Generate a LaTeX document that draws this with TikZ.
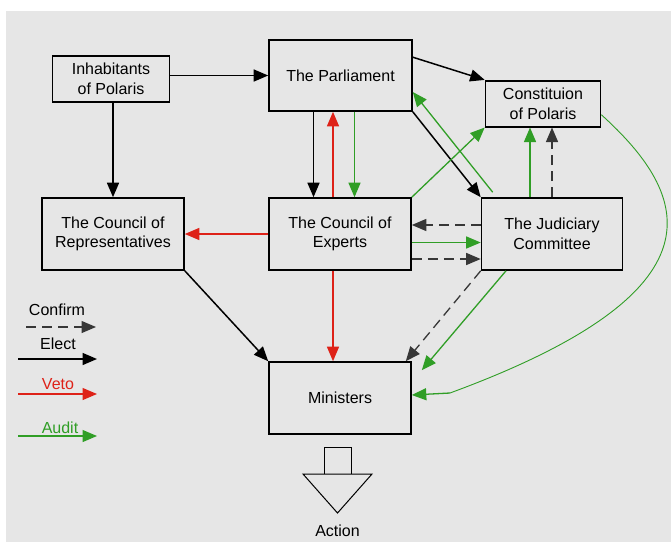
\documentclass[tikz,border=0pt]{standalone}
\usepackage{fontspec}
\setmainfont{Liberation Sans}
\usetikzlibrary{arrows.meta}
\definecolor{bggrey}{RGB}{230,230,230}
\definecolor{vetored}{RGB}{222,34,24}
\definecolor{auditgreen}{RGB}{48,158,38}
\definecolor{confirmgrey}{RGB}{55,55,55}
\tikzset{
    box/.style={draw, line width=1.6pt, fill=bggrey, align=center, inner sep=0pt},
    tip/.style={-{Triangle[length=14.5pt, width=12pt]}},
    elect/.style={tip, line width=1.5pt, black},
    veto/.style={tip, line width=1.3pt, vetored},
    audit/.style={tip, line width=1.3pt, auditgreen},
    confirm/.style={tip, line width=1.3pt, confirmgrey, dash pattern=on 10pt off 6pt}
}
\begin{document}
\begin{tikzpicture}[x=1pt, y=-1pt, font=\fontsize{16}{19.5}\selectfont]
        % Background and page size
        \useasboundingbox (0,0) rectangle (671,542);
        \fill[bggrey] (6,11) rectangle (671,542);

        % Draw the bodies as boxes
        \node[box, minimum width=117pt, minimum height=46pt] (inh) at (111,79) {Inhabitants\\of Polaris};
        \node[box, minimum width=143pt, minimum height=71pt] (parl) at (340.5,75.5) {The Parliament};
        \node[box, minimum width=115pt, minimum height=46pt] (const) at (543,103.7) {Constituion\\of Polaris};
        \node[box, minimum width=142pt, minimum height=72pt] (reps) at (113,234) {The Council of\\Representatives};
        \node[box, minimum width=142pt, minimum height=72pt] (exp) at (340,234) {The Council of\\Experts};
        \node[box, minimum width=141pt, minimum height=72pt] (jud) at (552,234) {The Judiciary\\Committee};
        \node[box, minimum width=142pt, minimum height=72pt] (min) at (340,398) {Ministers};

        % Elect arrows
        \draw[elect] (inh.east |- parl.west) -- (parl.west);
        \draw[elect] (reps.north |- inh.south) -- (reps.north);
        \draw[elect] ([yshift=-18pt]parl.north east) -- (const.north west);
        \draw[elect] (parl.south east) -- (jud.north west);
        \draw[elect] ([xshift=-27pt]parl.south) -- ([xshift=-27pt]parl.south |- exp.north);
        \draw[elect] (reps.south east) -- (min.north west);

        % Veto arrows
        \draw[veto] ([xshift=-7pt]exp.north) -- ([xshift=-7pt]exp.north |- parl.south);
        \draw[veto] (exp.west) -- (exp.west -| reps.east);
        \draw[veto] ([xshift=-7pt]exp.south) -- ([xshift=-7pt]exp.south |- min.north);

        % Audit arrows
        \draw[audit] ([xshift=14pt]parl.south) -- ([xshift=14pt]parl.south |- exp.north);
        \draw[audit] ([xshift=12pt, yshift=5pt]jud.north west) -- ([yshift=-16.5pt]parl.east);
        \draw[audit] (exp.north east) -- (const.south west);
        \draw[audit] ([xshift=-22pt]jud.north) -- ([xshift=-22pt]jud.north |- const.south);
        \draw[audit] ([yshift=-8.5pt]exp.east) -- ([yshift=-8.5pt]exp.east -| jud.west);
        \draw[audit] ([xshift=-46pt]jud.south) -- ([xshift=10pt, yshift=-9pt]min.north east);
        \coordinate (bend) at (450,393);
        \draw[auditgreen, line width=0.9pt] ([yshift=-11pt]const.east) .. controls (690,195) and (730,290) .. (bend);
        \draw[audit] (bend) -- ([yshift=3pt]min.east);

        % Confirm arrows
        \draw[confirm] (jud.north) -- (jud.north |- const.south);
        \draw[confirm] ([yshift=9pt]jud.west) -- ([yshift=9pt]jud.west -| exp.east);
        \draw[confirm] ([yshift=-25pt]exp.east) -- ([yshift=-25pt]exp.east -| jud.west);
        \draw[confirm] (jud.south west) -- ([xshift=-6pt]min.north east);

        % Action arrow below the ministers
        \draw[line width=1pt] (324,474) -- (324,447) -- (351,447) -- (351,474);
        \draw[line width=1pt] (303,474) -- (372,474) -- (337.5,513) -- cycle;
        \node (action) at (337.5,531) {Action};

        % Legend
        \node (lconfirm) at (57,310) {Confirm};
        \coordinate (c1) at (26,327);
        \coordinate (c2) at (96,327);
        \draw[confirm] (c1) -- (c2);
        \node (lelect) at (58,344) {Elect};
        \coordinate (e1) at (18,359);
        \coordinate (e2) at (97,359);
        \draw[elect] (e1) -- (e2);
        \node[text=vetored] (lveto) at (58,384) {Veto};
        \coordinate (v1) at (18,394);
        \coordinate (v2) at (97,394);
        \draw[veto] (v1) -- (v2);
        \node[text=auditgreen] (laudit) at (60,428) {Audit};
        \coordinate (a1) at (18,436);
        \coordinate (a2) at (97,436);
        \draw[audit] (a1) -- (a2);
    \end{tikzpicture}
\end{document}
